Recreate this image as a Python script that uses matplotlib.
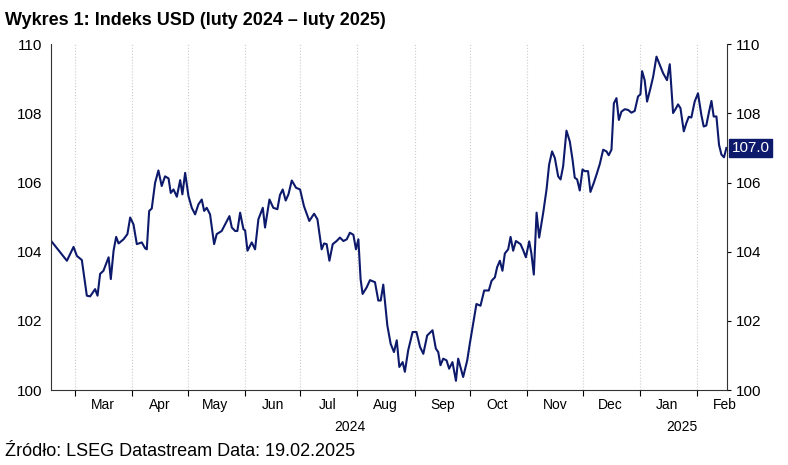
import numpy as np
import matplotlib.pyplot as plt
import matplotlib.dates as mdates
from datetime import datetime, timedelta

plt.rcParams['font.family'] = 'Liberation Sans'

# --- DANE --- #
start = datetime(2024, 2, 17)
day_offset = [0, 8.5, 12.1, 13.9, 16.6, 19.3, 21.1, 23.8, 25.1, 26.5,
              28.3, 31.1, 32.3, 33.8, 35.2, 36.5, 39.2, 41.3, 42.8, 44.6,
              46.4, 49.1, 50.9, 51.8, 53.1, 54.5, 56.3, 58.1, 59.9, 61.7,
              63.6, 64.8, 66.3, 68.1, 69.9, 71.1, 72.6, 74.4, 76.2, 78.0,
              79.8, 81.6, 82.9, 84.3, 86.1, 88.3, 89.7, 92.4, 95.2, 96.6,
              97.9, 99.7, 100.9, 102.4, 104.2, 105.1, 106.4, 108.7, 110.5, 112.3,
              114.7, 115.9, 118.3, 120.4, 122.6, 124.0, 125.5, 127.1, 128.6, 130.4,
              132.7, 134.9, 137.0, 139.9, 142.5, 144.3, 146.6, 147.9, 149.3, 150.8,
              152.6, 154.7, 156.5, 158.4, 160.2, 161.9, 163.8, 165.2, 166.5, 167.7,
              168.8, 171.0, 172.8, 175.5, 177.3, 178.6, 180.0, 182.2, 184.0, 185.8,
              187.3, 188.7,
              190.5, 191.7, 193.5, 195.9, 198.0, 199.9, 201.7, 203.8, 206.7, 208.5,
              209.8, 211.0, 212.5, 214.3, 215.7, 217.5, 219.4, 220.6, 223.3, 225.5,
              226.9, 228.7, 230.5, 232.7, 234.7, 237.2, 238.7, 240.5, 241.7, 243.2,
              244.6, 245.9, 247.7, 249.0, 250.4, 251.9, 254.4, 255.8, 257.3, 259.1,
              260.3, 261.6, 263.1, 264.5, 266.7, 268.5, 269.9, 271.5, 273.0, 274.8,
              276.1, 277.5, 279.3, 281.1, 282.6, 283.8, 285.1, 286.5, 288.0, 289.2,
              291.0, 292.3, 294.1, 295.6, 297.4, 299.2, 301.0, 302.2, 303.7, 305.0,
              306.4, 307.7, 309.1, 310.9, 312.7, 314.5, 316.3, 318.1, 319.4, 320.3,
              321.7, 323.0, 324.8, 326.3, 328.1, 329.9, 331.7, 333.8, 335.3, 337.1,
              338.5, 339.8, 341.1, 342.9, 344.3, 345.6, 347.0, 348.8, 350.6, 352.4,
              353.7, 355.1, 356.6, 357.9, 359.1, 360.6, 362.0, 363.3, 364.7, 366.0]
usd = [104.31, 103.74, 104.14, 103.88, 103.76, 102.73, 102.71, 102.92, 102.73, 103.36,
       103.45, 103.84, 103.21, 104.03, 104.43, 104.24, 104.36, 104.51, 104.99, 104.79,
       104.22, 104.27, 104.10, 104.07, 105.18, 105.25, 105.99, 106.35, 105.90, 106.18,
       106.12, 105.70, 105.80, 105.59, 106.07, 105.66, 106.28, 105.61, 105.27, 105.08,
       105.37, 105.51, 105.18, 105.27, 105.08, 104.22, 104.51, 104.60, 104.89, 105.03,
       104.70, 104.60, 104.60, 105.13, 104.65, 104.62, 104.03, 104.27, 104.07, 104.94,
       105.27, 104.70, 105.51, 105.27, 105.23, 105.64, 105.80, 105.48, 105.66, 106.06,
       105.85, 105.80, 105.32, 104.89, 105.10, 104.94, 104.07, 104.24, 104.22, 103.74,
       104.22, 104.31, 104.41, 104.31, 104.36, 104.55, 104.49, 104.07, 104.36, 103.21,
       102.78, 102.97, 103.18, 103.12, 102.59, 102.59, 103.05, 101.87, 101.34, 101.10,
       101.44, 100.67,
       100.81, 100.53, 101.15, 101.68, 101.68, 101.25, 101.05, 101.58, 101.73, 101.20,
       101.10, 100.72, 100.91, 100.86, 100.62, 100.81, 100.27, 100.91, 100.38, 100.86,
       101.34, 101.92, 102.49, 102.44, 102.88, 102.88, 103.16, 103.26, 103.55, 103.74,
       103.45, 103.95, 104.07, 104.43, 104.03, 104.31, 104.22, 104.05, 103.84, 104.30,
       103.95, 103.34, 105.13, 104.41, 105.13, 105.80, 106.52, 106.90, 106.71, 106.18,
       106.09, 106.47, 107.50, 107.19, 106.66, 106.14, 106.09, 105.77, 106.38, 106.33,
       106.33, 105.73, 105.99, 106.23, 106.54, 106.95, 106.90, 106.79, 106.95, 108.29,
       108.44, 107.81, 108.05, 108.12, 108.10, 108.02, 108.07, 108.49, 108.55, 109.22,
       108.96, 108.34, 108.72, 109.06, 109.64, 109.40, 109.16, 108.96, 109.42, 108.01,
       108.13, 108.26, 108.15, 107.48, 107.72, 107.90, 107.88, 108.34, 108.58, 107.96,
       107.62, 107.65, 108.05, 108.36, 107.91, 107.91, 107.09, 106.81, 106.73, 107.00]
y_ticks = [100, 102, 104, 106, 108, 110]
last_label = '107.0'

dates = [start + timedelta(days=d) for d in day_offset]
navy = '#0d1a6b'

# --- WYKRES --- #
fig = plt.figure(figsize=(7.88, 4.65), dpi=100)
ax = fig.add_axes([0.065, 0.161, 0.858, 0.744])
ax.plot(dates, usd, color=navy, lw=1.5)

ax.set_xlim(start, start + timedelta(days=366.5))
ax.set_ylim(100, 110)
ax.set_yticks(y_ticks)
ax.tick_params(axis='y', which='both', labelsize=11, length=3, labelleft=True,
               labelright=True, right=True, left=False)

ax.xaxis.set_major_locator(mdates.MonthLocator())
ax.xaxis.set_major_formatter(plt.NullFormatter())
ax.xaxis.set_minor_locator(mdates.MonthLocator(bymonthday=16))
ax.xaxis.set_minor_formatter(mdates.DateFormatter('%b'))
ax.tick_params(axis='x', which='major', length=4)
ax.tick_params(axis='x', which='minor', length=0, labelsize=10, pad=6)
ax.grid(True, axis='x', which='major', linestyle=':', color='#cccccc', lw=0.8)

ax.spines['top'].set_visible(False)
for s in ['left', 'right', 'bottom']:
    ax.spines[s].set_color('#333333')

ax.text(datetime(2024, 7, 28), 99.15, '2024', ha='center', va='top', fontsize=10)
ax.text(datetime(2025, 1, 24), 99.15, '2025', ha='center', va='top', fontsize=10)

ax.annotate(last_label, xy=(1.0, usd[-1]), xycoords=('axes fraction', 'data'),
            xytext=(3, 0), textcoords='offset points', ha='left', va='center',
            color='white', fontsize=11,
            bbox=dict(boxstyle='square,pad=0.15', fc=navy, ec=navy))

fig.text(0.006, 0.955, 'Wykres 1: Indeks USD (luty 2024 – luty 2025)',
         fontsize=13, fontweight='bold', va='center')
fig.text(0.006, 0.03, 'Źródło: LSEG Datastream Data: 19.02.2025',
         fontsize=13, va='center')

plt.savefig('out.png', dpi=100)
